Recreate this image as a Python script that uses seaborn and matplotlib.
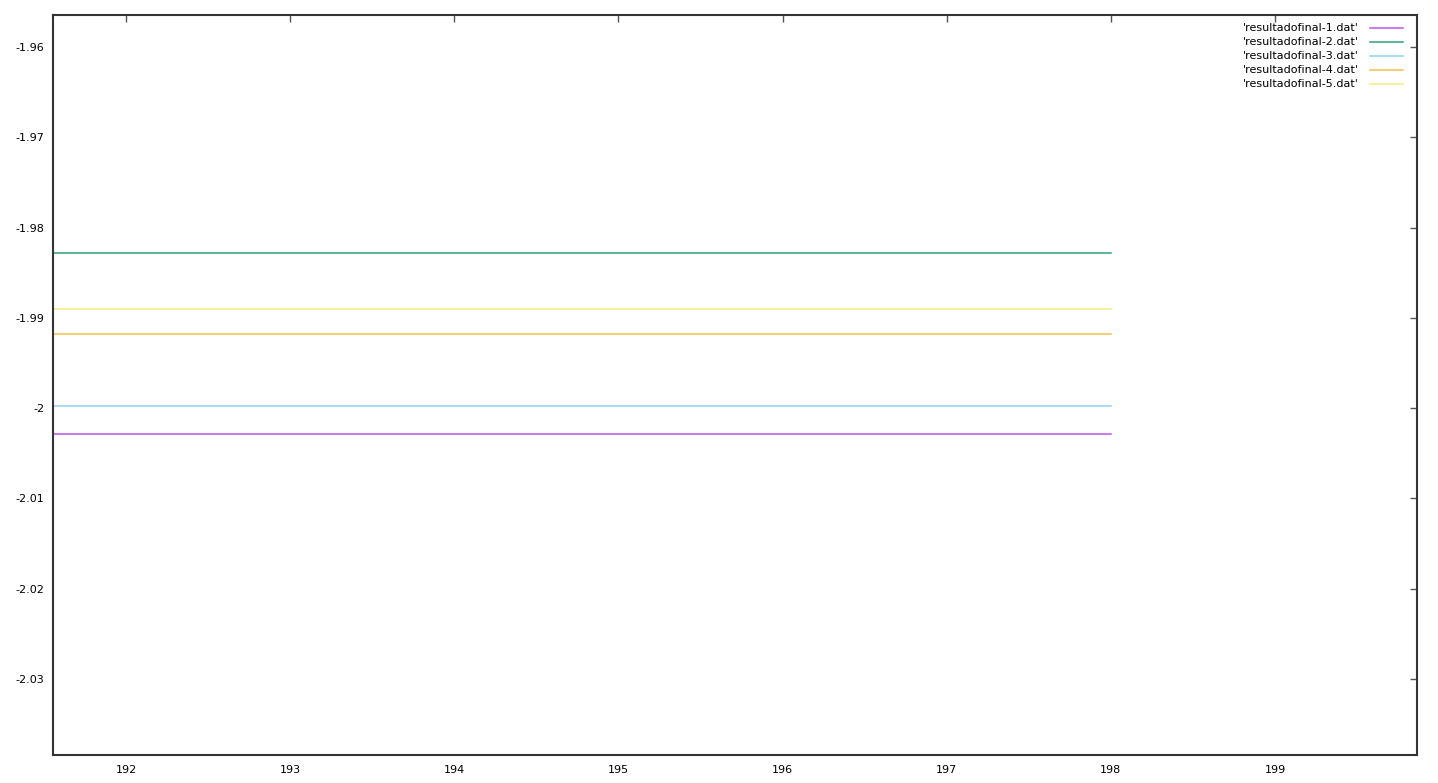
import matplotlib
matplotlib.use("Agg")
import matplotlib.pyplot as plt
import pandas as pd
import seaborn as sns

# x positions where the data files have points (constant curves)
steps = [190, 191, 192, 193, 194, 195, 196, 197, 198]
files = ["'resultadofinal-1.dat'", "'resultadofinal-2.dat'", "'resultadofinal-3.dat'",
         "'resultadofinal-4.dat'", "'resultadofinal-5.dat'"]
levels = [-2.00285, -1.98277, -1.99975, -1.99177, -1.98906]
colors = ["#c97fe9", "#5fb79b", "#a8dcf3", "#f2ce7f", "#f7f09f"]

rows = []
for name, lev in zip(files, levels):
    for s in steps:
        rows.append({'step': s, 'value': lev, 'file': name})
df = pd.DataFrame(rows)

sns.set_style("white")
plt.rcParams['font.family'] = ['DejaVu Sans']

fig = plt.figure(figsize=(14.38, 7.83), dpi=100)
ax = fig.add_axes([53 / 1438, 1 - 755 / 783, (1417 - 53) / 1438, (755 - 15) / 783])

sns.lineplot(data=df, x="step", y="value", hue="file", palette=colors,
             linewidth=1.5, ax=ax, legend=True)

ax.set_xlim(191.555, 199.865)
ax.set_ylim(-2.03843, -1.95645)
ax.set_xticks([192, 193, 194, 195, 196, 197, 198, 199])
ax.set_xticklabels(["192", "193", "194", "195", "196", "197", "198", "199"])
ax.set_yticks([-2.03, -2.02, -2.01, -2.0, -1.99, -1.98, -1.97, -1.96])
ax.set_yticklabels(["-2.03", "-2.02", "-2.01", "-2", "-1.99", "-1.98", "-1.97", "-1.96"])
ax.set_xlabel("")
ax.set_ylabel("")
ax.tick_params(axis='both', which='major', direction='in', length=5, width=1,
               color='#555555', labelcolor='black', labelsize=8, top=True, right=True)
ax.tick_params(axis='y', pad=6)
ax.tick_params(axis='x', pad=7)
for sp in ax.spines.values():
    sp.set_color('#333333')
    sp.set_linewidth(1.5)

leg = ax.legend(loc='upper right', frameon=False, fontsize=8, markerfirst=False,
                handlelength=2.9, labelspacing=0.36, borderaxespad=0.0,
                handletextpad=1.0, bbox_to_anchor=(1 - 10 / 1364, 1 - 4 / 740))
for t in leg.get_texts():
    t.set_color('black')

plt.savefig('out.png', dpi=100)
